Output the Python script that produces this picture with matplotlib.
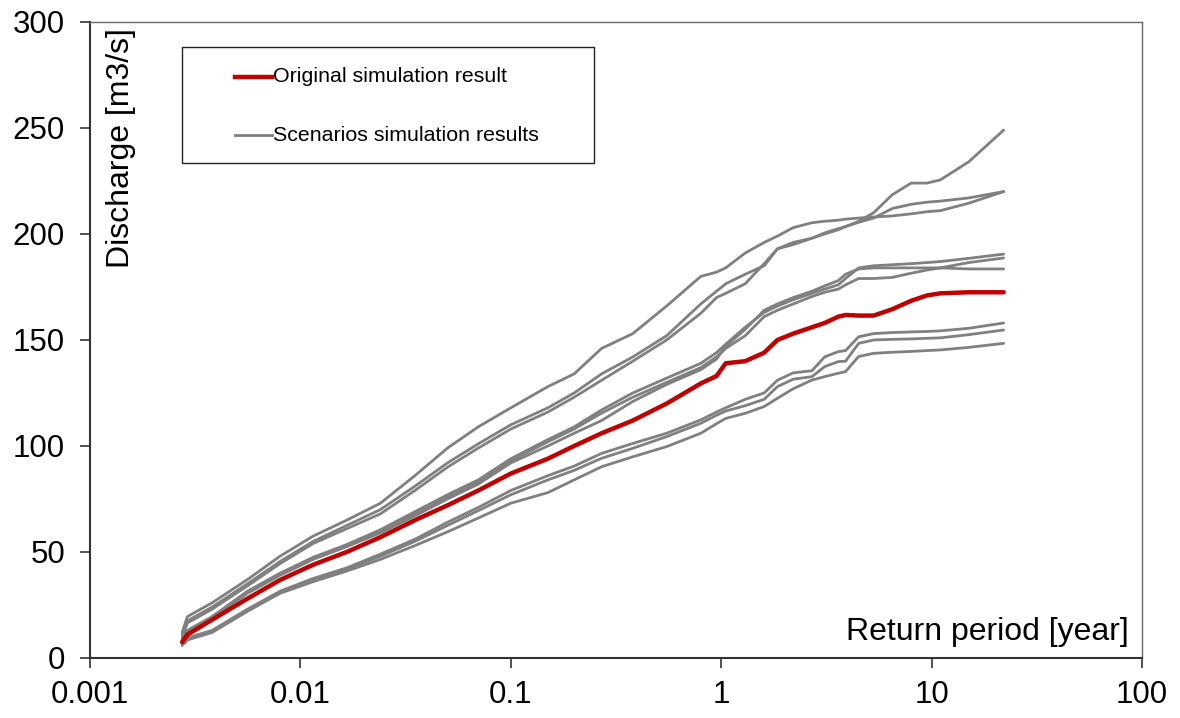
import numpy as np
import matplotlib
matplotlib.use('Agg')
import matplotlib.pyplot as plt
from matplotlib.patches import Rectangle
from matplotlib.ticker import FixedLocator, FixedFormatter

plt.rcParams['font.family'] = ['Liberation Sans', 'DejaVu Sans']

# return period [year] (shared by all curves)
rp = [0.00274, 0.0029, 0.0038, 0.0056, 0.008, 0.0115, 0.0166, 0.024, 0.035,
      0.05, 0.07, 0.1, 0.15, 0.2, 0.27, 0.38, 0.55, 0.8, 0.95, 1.05, 1.3, 1.6,
      1.85, 2.2, 2.7, 3.1, 3.6, 3.9, 4.5, 5.3, 6.5, 8, 9.5, 11, 15, 22]

# original simulation (discharge m3/s)
original = [7.5, 11, 18, 28, 36.8, 44, 50, 57, 65, 72, 79, 87,
            94, 100, 106, 112, 120, 129.5, 133, 139, 140, 144, 150, 153, 156,
            158, 161, 161.8, 161.5, 161.5, 164.5, 168.5, 171, 172, 172.5, 172.5]

# scenario simulations
sc_top1 = [12, 19.5, 26, 37, 48, 57.5, 65, 73, 86, 99, 109, 118,
           128, 134, 146, 153, 166, 180, 182, 184, 191, 196, 199, 203, 205.3,
           206, 206.5, 207, 207.5, 208, 208.5, 209.5, 210.5, 211, 214.5, 220]
sc_top2 = [10.5, 17.5, 24, 35, 45.5, 55, 62.5, 70, 81, 92, 101, 110,
           118, 125, 134, 142, 152, 167, 173, 176.5, 181, 185, 193, 196, 198,
           200, 202, 203.5, 206, 210, 218.5, 224, 224, 225.5, 234, 249]
sc_top3 = [9.5, 16.5, 23, 34, 44.5, 54, 61, 68, 79, 90, 99, 108,
           116, 123, 131, 140, 150, 162.6, 170, 172, 176.5, 186, 193, 195, 198,
           200.5, 202.5, 203.5, 205.5, 207.5, 212, 214, 215, 215.5, 217, 220]
sc_mid1 = [8, 13, 19.5, 31.5, 40, 47.5, 53.5, 60.5, 69, 77, 84, 94,
           103, 109, 117, 125, 132, 139, 144, 148, 156, 163, 166, 169, 172,
           174, 176, 179, 184, 185, 185.5, 186, 186.5, 187, 188.5, 190.5]
sc_mid2 = [7.5, 12.5, 19, 31, 39.5, 47, 53, 60, 68, 76, 83, 93,
           102, 108, 115.5, 123, 130, 137, 142, 146, 152, 161, 164, 167, 170.5,
           172.5, 174, 176, 179, 179, 179.5, 181.5, 183, 184, 186.5, 188.7]
sc_mid3 = [7, 12, 18.5, 30.5, 39, 46.5, 52.5, 59, 67, 75, 82, 92,
           100, 106, 112, 121, 129, 136, 141, 147, 155, 164, 167, 170, 173,
           175.5, 178, 181, 183.5, 184, 184, 184, 184, 184, 183.5, 183.5]
sc_low1 = [6.5, 9.5, 13, 23, 31.5, 37.5, 42.5, 49, 56, 64, 71, 79,
           86, 90.5, 96.5, 101.2, 106, 112.3, 116, 118, 122, 125, 131, 134.5,
           135.5, 142, 144.5, 145, 151.5, 153, 153.5, 153.8, 154, 154.3, 155.5,
           158]
sc_low2 = [6, 9, 12.5, 22.5, 31, 37, 42, 48, 55, 62.5, 69.5, 77,
           84, 88.5, 94.2, 98.9, 104.4, 110.7, 114.5, 116.5, 119, 122, 128,
           131.5, 132.7, 137.4, 139.8, 140, 148.4, 150, 150.3, 150.5, 150.8,
           151, 152.5, 154.7]
sc_low3 = [6, 8.5, 12, 22, 30.5, 36, 41, 46.5, 53, 59.5, 66, 73,
           78, 84, 90.2, 94.9, 99.7, 106, 110.5, 113, 115.4, 118.6, 122.5, 127,
           131.1, 132.7, 134.3, 135.1, 142.2, 143.7, 144.2, 144.6, 145, 145.3,
           146.5, 148.4]
scenarios = [sc_top1, sc_top2, sc_top3, sc_mid1, sc_mid2, sc_mid3,
             sc_low1, sc_low2, sc_low3]

xticks = [0.001, 0.01, 0.1, 1, 10, 100]
xtick_labels = ['0.001', '0.01', '0.1', '1', '10', '100']
yticks = [0, 50, 100, 150, 200, 250, 300]

fig = plt.figure(figsize=(11.8, 7.18), dpi=100)
ax = fig.add_axes([0.0763, 0.0836, 0.8915, 0.8858])

for s in scenarios:
    ax.plot(rp, s, color='#808080', linewidth=2.0, solid_capstyle='round',
            solid_joinstyle='round')
ax.plot(rp, original, color='#C00000', linewidth=3.2, solid_capstyle='round',
        solid_joinstyle='round')

ax.set_xscale('log')
ax.set_xlim(0.001, 100)
ax.set_ylim(0, 300)
ax.xaxis.set_major_locator(FixedLocator(xticks))
ax.xaxis.set_major_formatter(FixedFormatter(xtick_labels))
ax.xaxis.set_minor_locator(FixedLocator([]))
ax.set_yticks(yticks)

ax.tick_params(axis='both', direction='out', length=7, width=1.2,
               labelsize=22.5, color='#333333')
ax.tick_params(axis='y', pad=11)
ax.tick_params(axis='x', pad=9)

for side in ['left', 'bottom']:
    ax.spines[side].set_color('#333333')
    ax.spines[side].set_linewidth(1.5)
for side in ['top', 'right']:
    ax.spines[side].set_color('#666666')
    ax.spines[side].set_linewidth(1.0)

# axis titles inside the plot
ax.text(0.029, 0.99, 'Discharge [m3/s]', transform=ax.transAxes, rotation=90,
        ha='center', va='top', fontsize=23)
ax.text(0.987, 0.041, 'Return period [year]', transform=ax.transAxes,
        ha='right', va='center', fontsize=23)

# legend box
ax.add_patch(Rectangle((0.0875, 0.778), 0.3915, 0.183, transform=ax.transAxes,
                       fill=False, edgecolor='#222222', linewidth=1.0))
ax.plot([0.138, 0.173], [0.9135, 0.9135], transform=ax.transAxes,
        color='#C00000', linewidth=3.2)
ax.plot([0.138, 0.173], [0.822, 0.822], transform=ax.transAxes,
        color='#808080', linewidth=2.0)
ax.text(0.174, 0.9135, 'Original simulation result', transform=ax.transAxes,
        ha='left', va='center', fontsize=15.4)
ax.text(0.174, 0.822, 'Scenarios simulation results', transform=ax.transAxes,
        ha='left', va='center', fontsize=15.4)

fig.savefig('out.png', dpi=100)
